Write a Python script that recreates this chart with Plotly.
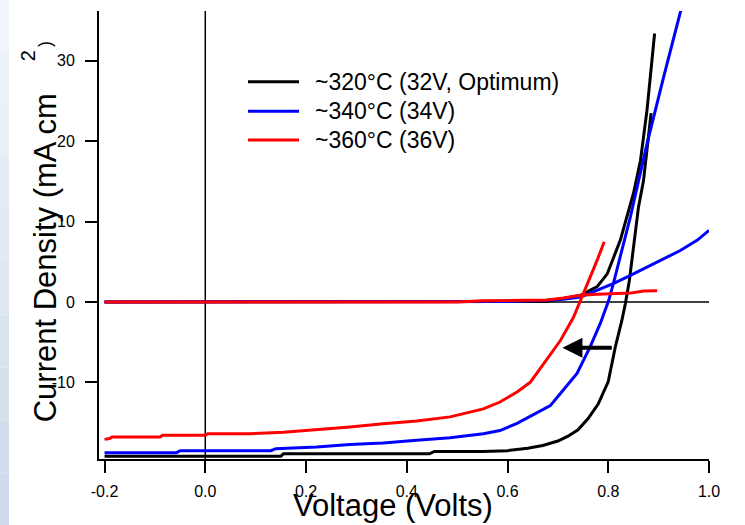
import plotly.graph_objects as go

# ---- data ----
# ~320°C (32V, Optimum)
v320_light = [-0.2, 0.15, 0.155, 0.445, 0.455, 0.55, 0.6, 0.64, 0.67, 0.7, 0.72, 0.74, 0.76, 0.78,
              0.8, 0.814, 0.827, 0.834, 0.842, 0.85, 0.86, 0.87, 0.877, 0.885]
j320_light = [-19.2, -19.2, -18.9, -18.9, -18.6, -18.6, -18.5, -18.2, -17.85, -17.3, -16.7, -15.9, -14.5, -12.7,
              -9.9, -5.6, -2.3, -0.2, 2.7, 6.8, 11.8, 15.1, 18.9, 23.5]
v320_dark = [-0.2, 0.6, 0.678, 0.711, 0.745, 0.778, 0.798, 0.811, 0.824, 0.837, 0.85, 0.864, 0.877, 0.892]
j320_dark = [0.0, 0.0, 0.05, 0.42, 0.83, 1.9, 3.5, 5.6, 7.7, 10.6, 13.5, 17.6, 23.9, 33.4]

# ~340°C (34V)
v340_light = [-0.2, -0.057, -0.05, 0.13, 0.14, 0.221, 0.287, 0.353, 0.42, 0.486, 0.552, 0.585, 0.619,
              0.652, 0.685, 0.705, 0.738, 0.764, 0.784, 0.801, 0.811, 0.844, 0.877, 0.91, 0.945]
j340_light = [-18.75, -18.75, -18.5, -18.5, -18.25, -18.05, -17.75, -17.55, -17.2, -16.9, -16.4, -16.0, -15.1,
              -14.0, -12.9, -11.4, -8.9, -5.6, -2.7, 0.2, 2.5, 10.6, 19.7, 28.0, 36.5]
v340_dark = [-0.2, 0.53, 0.6, 0.678, 0.711, 0.745, 0.778, 0.811, 0.844, 0.877, 0.91, 0.943, 0.977, 1.0]
j340_dark = [0.0, 0.0, 0.05, 0.2, 0.35, 0.6, 1.45, 2.3, 3.3, 4.35, 5.4, 6.4, 7.7, 8.9]

# ~360°C (36V)
v360_light = [-0.2, -0.19, -0.185, -0.09, -0.085, 0.0, 0.005, 0.088, 0.155, 0.221, 0.287, 0.353, 0.42,
              0.486, 0.552, 0.585, 0.619, 0.645, 0.672, 0.705, 0.731, 0.748, 0.761, 0.778, 0.792]
j360_light = [-17.1, -17.0, -16.8, -16.8, -16.6, -16.6, -16.4, -16.4, -16.2, -15.9, -15.55, -15.15, -14.8,
              -14.3, -13.3, -12.45, -11.2, -10.0, -7.7, -4.8, -1.9, 0.6, 2.7, 5.2, 7.5]
v360_dark = [-0.2, 0.5, 0.55, 0.6, 0.678, 0.711, 0.745, 0.778, 0.811, 0.844, 0.87, 0.897]
j360_dark = [0.0, 0.0, 0.15, 0.2, 0.25, 0.5, 0.83, 0.95, 1.0, 1.1, 1.37, 1.4]

series_names = ["~320°C (32V, Optimum)", "~340°C (34V)", "~360°C (36V)"]
series_colors = ["#000000", "#0000ff", "#ff0000"]

x_ticks = [-0.2, 0.0, 0.2, 0.4, 0.6, 0.8, 1.0]
x_ticklabels = ["-0.2", "0.0", "0.2", "0.4", "0.6", "0.8", "1.0"]
y_ticks = [-10, 0, 10, 20, 30]
y_ticklabels = ["-10", "0", "10", "20", "30"]

FONT = "Liberation Sans, Arial, sans-serif"

fig = go.Figure()
curves = [
    (v320_light, j320_light, v320_dark, j320_dark),
    (v340_light, j340_light, v340_dark, j340_dark),
    (v360_light, j360_light, v360_dark, j360_dark),
]
for (vl, jl, vd, jd), name, col in zip(curves, series_names, series_colors):
    fig.add_trace(go.Scatter(x=vl, y=jl, mode="lines", name=name, legendgroup=name,
                             line=dict(color=col, width=3), showlegend=False))
    fig.add_trace(go.Scatter(x=vd, y=jd, mode="lines", name=name, legendgroup=name,
                             line=dict(color=col, width=3), showlegend=False))

shapes = []
# left bluish strip
strip_colors = ["#f1f5fa", "#edf2f8", "#e9eff7", "#e5ecf5", "#e1e9f3",
                "#dde6f1", "#d9e3ef", "#d5e0ed", "#d2ddeb", "#cfdbea"]
n = len(strip_colors)
y_top, y_bot = 1.03, -0.15
for i, c in enumerate(strip_colors):
    y0 = y_top - (y_top - y_bot) * i / n
    y1 = y_top - (y_top - y_bot) * (i + 1) / n
    shapes.append(dict(type="rect", xref="paper", yref="paper", x0=-0.165, x1=-0.1475,
                       y0=y1, y1=y0, fillcolor=c, line=dict(width=0), layer="below"))
# zero lines
shapes.append(dict(type="line", xref="x", yref="y", x0=-0.2, x1=1.0, y0=0, y1=0,
                   line=dict(color="black", width=1.5), layer="below"))
shapes.append(dict(type="line", xref="x", yref="paper", x0=0, x1=0, y0=0, y1=1,
                   line=dict(color="black", width=1.5), layer="below"))

annotations = []
# custom legend
leg_y = [0.8420, 0.7760, 0.7121]
for name, col, yy in zip(series_names, series_colors, leg_y):
    shapes.append(dict(type="line", xref="paper", yref="paper", x0=0.2443, x1=0.3279,
                       y0=yy, y1=yy, line=dict(color=col, width=3)))
    annotations.append(dict(xref="paper", yref="paper", x=0.3510, y=yy, text=name,
                            showarrow=False, xanchor="left", yanchor="middle",
                            font=dict(family=FONT, size=23, color="black")))

# axis titles
annotations.append(dict(xref="paper", yref="paper", x=0.482, y=-0.1027, text="Voltage (Volts)",
                        showarrow=False, xanchor="center", yanchor="middle",
                        font=dict(family=FONT, size=31, color="black")))
annotations.append(dict(xref="paper", yref="paper", x=-0.0885, y=0.4480, text="Current Density (mA cm",
                        showarrow=False, xanchor="center", yanchor="middle", textangle=-90,
                        font=dict(family=FONT, size=31, color="black")))
annotations.append(dict(xref="paper", yref="paper", x=-0.1160, y=0.8996, text="2",
                        showarrow=False, xanchor="center", yanchor="middle", textangle=-90,
                        font=dict(family=FONT, size=20, color="black")))
annotations.append(dict(xref="paper", yref="paper", x=-0.0885, y=0.9263, text=")",
                        showarrow=False, xanchor="center", yanchor="middle", textangle=-90,
                        font=dict(family=FONT, size=18, color="black")))
# arrow
annotations.append(dict(xref="x", yref="y", x=0.709, y=-5.7, axref="x", ayref="y", ax=0.81, ay=-5.7,
                        text="", showarrow=True, arrowhead=2, arrowsize=1, arrowwidth=4,
                        arrowcolor="black", standoff=0, startstandoff=0))

fig.update_layout(
    width=745, height=525,
    margin=dict(l=99, r=36, t=11, b=66),
    paper_bgcolor="white", plot_bgcolor="white",
    showlegend=False,
    shapes=shapes, annotations=annotations,
    font=dict(family=FONT, size=16, color="black"),
    xaxis=dict(range=[-0.211, 1.0], tickvals=x_ticks, ticktext=x_ticklabels,
               showline=True, linecolor="black", linewidth=2, ticks="outside", ticklen=12,
               tickwidth=1.5, tickcolor="black", showgrid=False, zeroline=False,
               ticklabelstandoff=5, tickfont=dict(family=FONT, size=16, color="black")),
    yaxis=dict(range=[-19.54, 36.2], tickvals=y_ticks, ticktext=y_ticklabels,
               showline=True, linecolor="black", linewidth=2, ticks="outside", ticklen=12,
               tickwidth=1.5, tickcolor="black", showgrid=False, zeroline=False,
               ticklabelstandoff=7, tickfont=dict(family=FONT, size=16, color="black")),
)

fig.write_html("out.html")
